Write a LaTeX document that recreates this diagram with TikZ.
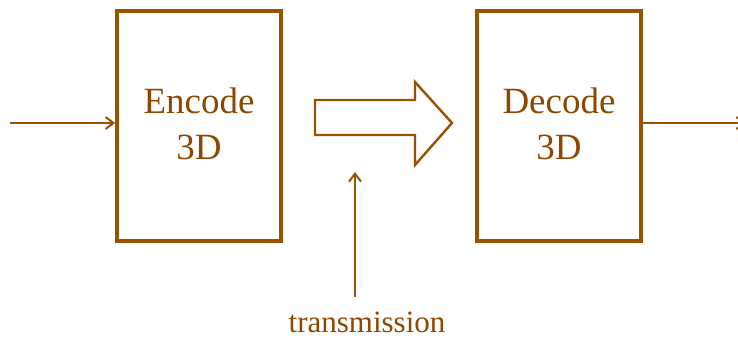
\documentclass[tikz,border=0pt]{standalone}
\usepackage{fontspec}
\setmainfont{Liberation Serif}
\usetikzlibrary{arrows.meta}
\definecolor{brn}{RGB}{153,82,0}
\definecolor{brntext}{RGB}{140,72,0}
\begin{document}
\begin{tikzpicture}[x=1pt,y=1pt,
  codec/.style={draw=brn, line width=3.6pt, minimum width=164pt, minimum height=230pt,
    inner sep=0pt},
  codectext/.style={text=brntext, font=\fontsize{37}{46}\selectfont, align=center, inner sep=0pt},
  flow/.style={draw=brn, line width=2pt, -{Straight Barb[length=8pt,width=12pt,line width=2pt]}},
  label/.style={text=brntext, font=\fontsize{31}{36}\selectfont, inner sep=0pt}]
\useasboundingbox (0,0) rectangle (738,339);
% coding blocks
\node[codec] (enc) at (199,213) {};
\node[codec] (dec) at (559,213) {};
\node[codectext] (enctext) at ([yshift=2.5pt]enc.center) {Encode\\3D};
\node[codectext] (dectext) at ([yshift=2.5pt]dec.center) {Decode\\3D};
% input and output lines
\coordinate (in) at (10,216);
\coordinate (out) at (746,216);
\draw[flow] (in) -- (enc.west |- in);
\draw[flow] (dec.east |- out) -- (out);
% hollow block arrow between the coders
\draw[brn, line width=2.4pt, line join=miter]
  (315,239) -- (415,239) -- (415,257) -- (452,216) -- (415,174) -- (415,204) -- (315,204) -- cycle;
% transmission channel
\node[label, anchor=base] (tx) at (367,6) {transmission};
\coordinate (txtail) at (355,42);
\coordinate (txhead) at (355,167);
\draw[flow] (txtail) -- (txhead);
\end{tikzpicture}
\end{document}
